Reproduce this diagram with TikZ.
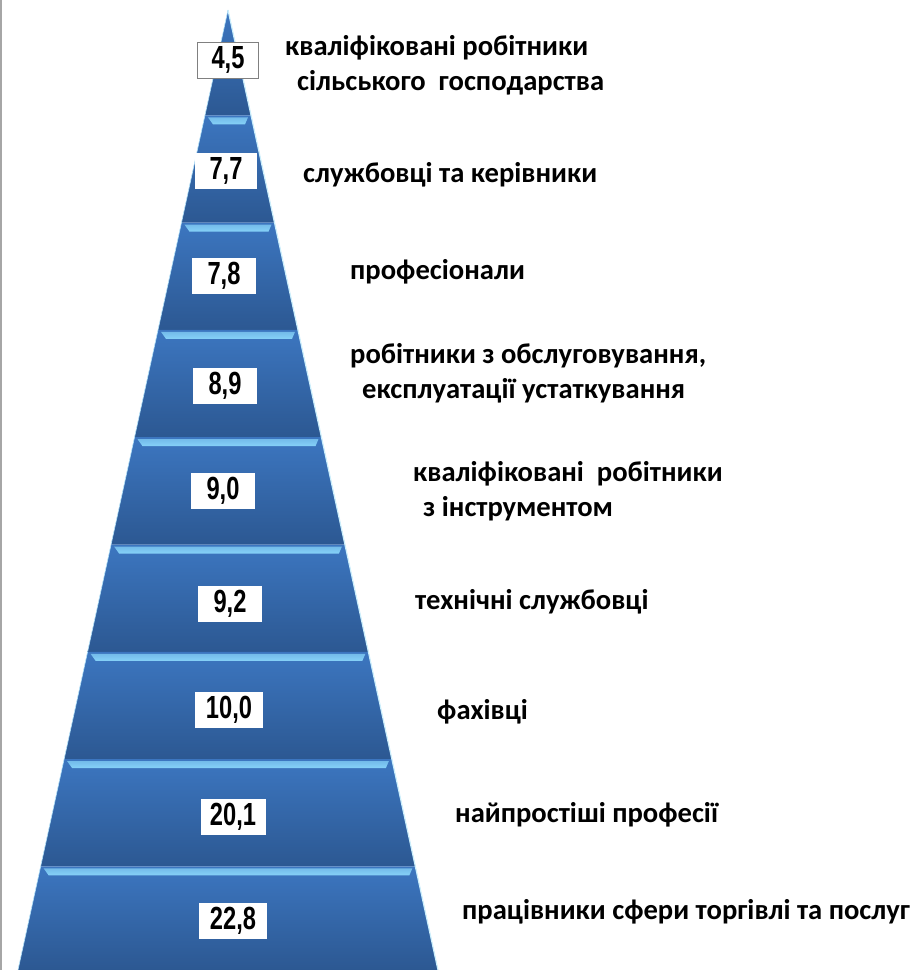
\documentclass[tikz,border=0pt]{standalone}
\usepackage{fontspec}
\setmainfont{Carlito}
\newfontfamily\numfont[FakeStretch=0.74]{Liberation Sans}
\definecolor{layertop}{HTML}{3C76C0}
\definecolor{layermid}{HTML}{3A6DB4}
\definecolor{layerbot}{HTML}{2C5892}
\definecolor{stripe}{HTML}{86D2F8}
\tikzset{
  numbox/.style={fill=white, minimum width=64pt, minimum height=36pt, inner sep=0pt,
    font=\numfont\bfseries\fontsize{32}{32}\selectfont},
  lbl/.style={anchor=west, align=left, inner sep=0pt,
    font=\bfseries\fontsize{28.6}{35}\selectfont}
}
\begin{document}
\begin{tikzpicture}[x=1pt, y=-1pt]
    \useasboundingbox (0,0) rectangle (923,970);
    \draw[gray!70, line width=1.5pt] (1,0) -- (1,970);
    % pyramid layers
    \foreach \t/\b in {10/115.3, 115.3/222.6, 222.6/329.9, 329.9/437.2, 437.2/544.5,
                       544.5/651.8, 651.8/759.1, 759.1/866.4, 866.4/970} {
        \pgfmathsetmacro\lt{228-0.21875*(\t-10)}
        \pgfmathsetmacro\rt{228+0.21875*(\t-10)}
        \pgfmathsetmacro\lb{228-0.21875*(\b-10)}
        \pgfmathsetmacro\rb{228+0.21875*(\b-10)}
        \shade[top color=layertop, middle color=layermid, bottom color=layerbot]
            (\lt,\t) -- (\rt,\t) -- (\rb,\b) -- (\lb,\b) -- cycle;
        \ifdim\t pt>20pt
            \shade[top color=stripe!75!layertop, bottom color=stripe]
                (\lt+3,\t+2) -- (\rt-3,\t+2) -- (\rt-6,\t+9) -- (\lt+8,\t+9) -- cycle;
        \fi
    }
    \coordinate (apex) at (228,10);
    \coordinate (bl) at (18,970);
    \coordinate (br) at (438,970);
    \draw[white!80!cyan, line width=1.2pt] (apex) -- (br);
    \draw[stripe!60!white, line width=0.6pt] (apex) -- (bl);
    % values
    \node[numbox, draw=gray, line width=0.8pt, minimum width=61pt] (v1) at (228,60) {4,5};
    \node[numbox, minimum width=62pt] (v2) at (226,171) {7,7};
    \node[numbox] (v3) at (224,276) {7,8};
    \node[numbox] (v4) at (225,386) {8,9};
    \node[numbox] (v5) at (223,491) {9,0};
    \node[numbox] (v6) at (230,604) {9,2};
    \node[numbox, minimum width=68pt] (v7) at (229,710) {10,0};
    \node[numbox, minimum width=65pt] (v8) at (233,817) {20,1};
    \node[numbox, minimum width=68pt] (v9) at (233,921) {22,8};
    % labels
    \node[lbl] (l1) at (285,65) {кваліфіковані робітники\\\hspace{12pt}сільського~ господарства};
    \node[lbl] (l2) at (303,175) {службовці та керівники};
    \node[lbl] (l3) at (350,272) {професіонали};
    \node[lbl] (l4) at (350,373) {робітники з обслуговування,\\\hspace{12pt}експлуатації устаткування};
    \node[lbl] (l5) at (413,491) {кваліфіковані~ робітники\\\hspace{10pt}з інструментом};
    \node[lbl] (l6) at (415,602) {технічні службовці};
    \node[lbl] (l7) at (437,712) {фахівці};
    \node[lbl] (l8) at (455,815) {найпростіші професії};
    \node[lbl] (l9) at (462,912) {працівники сфери торгівлі та послуг};
\end{tikzpicture}
\end{document}
